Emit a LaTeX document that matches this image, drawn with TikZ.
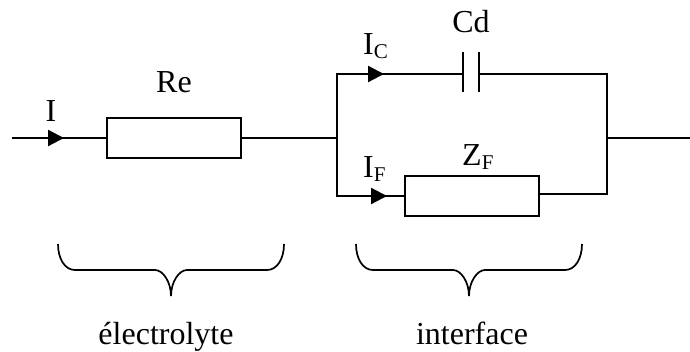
\documentclass[tikz,border=0pt]{standalone}
\usepackage{fontspec}
\setmainfont{Liberation Serif}
\usetikzlibrary{arrows.meta}
\tikzset{
  wire/.style={line width=1.7pt,line cap=butt},
  resistor/.style={draw,line width=1.7pt,fill=white,inner sep=0pt,minimum width=134pt,minimum height=40pt},
  plate/.style={line width=1.8pt},
  current/.style={line width=2.2pt,-{Triangle[length=16pt,width=16pt]},shorten >=0pt},
  bracket/.style={line width=1.7pt},
  lab/.style={anchor=base,inner sep=0pt,font=\fontsize{32}{34}\selectfont}
}
\newcommand{\subs}[1]{\raisebox{-4.5pt}{\fontsize{21}{23}\selectfont #1}}
\begin{document}
\begin{tikzpicture}[x=1pt,y=-1pt]
\useasboundingbox (0,0) rectangle (690,351);
% boxes
\node[resistor] (re) at (174,138) {};
\node[resistor] (zf) at (472,196) {};
% junctions
\coordinate (in) at (12,138);
\coordinate (jl) at (337,138);
\coordinate (tl) at (337,74);
\coordinate (bl) at (337,196);
\coordinate (jr) at (607,138);
\coordinate (tr) at (607,74);
\coordinate (br) at (607,194);
\coordinate (out) at (690,138);
\coordinate (c1) at (463,74);
\coordinate (c2) at (479,74);
\coordinate (c1t) at (463,52);
\coordinate (c1b) at (463,92);
\coordinate (c2t) at (479,52);
\coordinate (c2b) at (479,92);
% wires
\draw[wire] (in) -- (re.west);
\draw[wire] (re.east) -- (jl);
\draw[wire] (c1) -- (tl) -- (bl) -- (zf.west);
\draw[wire] (c2) -- (tr) -- (br) -- (zf.east |- br);
\draw[wire] (jr) -- (out);
\draw[plate] (c1t) -- (c1b);
\draw[plate] (c2t) -- (c2b);
% current arrows
\coordinate (a1s) at (35,138); \coordinate (a1e) at (64,138);
\coordinate (a2s) at (355,74); \coordinate (a2e) at (384,74);
\coordinate (a3s) at (357,196); \coordinate (a3e) at (387,196);
\draw[current] (a1s) -- (a1e);
\draw[current] (a2s) -- (a2e);
\draw[current] (a3s) -- (a3e);
% braces
\draw[bracket] (58,244) .. controls (58,259) and (65,270) .. (75,270) -- (155,270)
  .. controls (163,270) and (171,282) .. (171,296)
  .. controls (171,282) and (179,270) .. (187,270) -- (267,270)
  .. controls (277,270) and (284,259) .. (284,244);
\draw[bracket] (356,244) .. controls (356,259) and (363,270) .. (373,270) -- (453,270)
  .. controls (461,270) and (469,282) .. (469,296)
  .. controls (469,282) and (477,270) .. (485,270) -- (565,270)
  .. controls (575,270) and (582,259) .. (582,244);
% labels
\node[lab] (lre) at (174,92) {Re};
\node[lab] (li) at (51,121) {I};
\node[lab,anchor=base west] (lic) at (363,54) {I\subs{C}};
\node[lab] (lcd) at (471,32) {Cd};
\node[lab,anchor=base west] (lif) at (363,177) {I\subs{F}};
\node[lab,anchor=base west] (lzf) at (462,165) {Z\subs{F}};
\node[lab] (lel) at (166,344) {électrolyte};
\node[lab] (lint) at (472,344) {interface};
\end{tikzpicture}
\end{document}
